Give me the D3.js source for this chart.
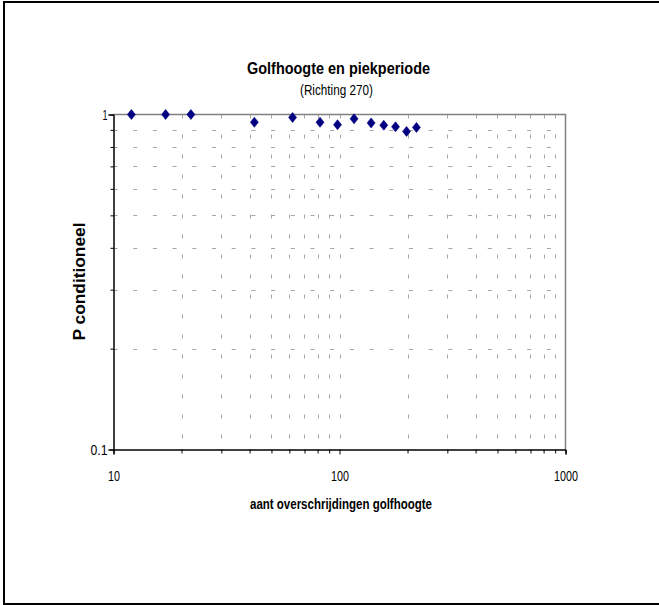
<!DOCTYPE html>
<html>
<head>
<meta charset="utf-8">
<script src="https://cdn.jsdelivr.net/npm/d3@7"></script>
<style>
  html, body { margin: 0; padding: 0; background: #fff; }
  svg { display: block; font-family: "Liberation Sans", Arial, sans-serif; }
</style>
</head>
<body>
<svg id="chart" width="659" height="605"></svg>
<script>
// ---- data ----
const xValues = [12, 17, 22, 42, 62, 82, 98, 116, 138, 157, 177, 198, 219];
const pValues = [1.0, 1.0, 1.0, 0.948, 0.98, 0.948, 0.932, 0.971, 0.944, 0.929, 0.919, 0.89, 0.915];
const xMajorTicks = [10, 100, 1000];
const xMinorTicks = [20, 30, 40, 50, 60, 70, 80, 90, 200, 300, 400, 500, 600, 700, 800, 900];
const yMajorTicks = [0.1, 1];
const yMinorTicks = [0.2, 0.3, 0.4, 0.5, 0.6, 0.7, 0.8, 0.9];
const titleText = "Golfhoogte en piekperiode";
const subtitleText = "(Richting 270)";
const xTitle = "aant overschrijdingen golfhoogte";
const yTitle = "P conditioneel";

// ---- layout ----
const pLeft = 113.5, pRight = 565.5, pTop = 114.5, pBottom = 449.5;
const svg = d3.select("#chart");

svg.append("rect").attr("x", 0).attr("y", 0).attr("width", 659).attr("height", 605).attr("fill", "#fff");
// outer frame (top, left, bottom visible)
svg.append("rect").attr("x", 4).attr("y", 2).attr("width", 720).attr("height", 602)
  .attr("fill", "none").attr("stroke", "#000").attr("stroke-width", 2);

const x = d3.scaleLog().domain([10, 1000]).range([pLeft, pRight]);
const y = d3.scaleLog().domain([0.1, 1]).range([pBottom, pTop]);

// gridlines
const grid = svg.append("g").attr("stroke", "#a6a6a6").attr("stroke-width", 1).attr("fill", "none");
xMinorTicks.concat([100]).forEach(v => {
  const px = Math.round(x(v)) + 0.5;
  grid.append("line").attr("x1", px).attr("x2", px).attr("y1", pTop).attr("y2", pBottom)
    .attr("stroke-dasharray", "4,16");
});
yMinorTicks.forEach(v => {
  const py = Math.round(y(v)) + 0.5;
  grid.append("line").attr("x1", pLeft).attr("x2", pRight).attr("y1", py).attr("y2", py)
    .attr("stroke-dasharray", "4,15.7");
});

// plot area top/right border (grey)
svg.append("path").attr("d", `M${pLeft},${pTop}H${pRight}V${pBottom}`)
  .attr("fill", "none").attr("stroke", "#808080").attr("stroke-width", 1.5);

// axes
const tickFont = 15;
const labelWidth = s => s === "0.1" ? 17 : s.length * 6;
const gx = svg.append("g").attr("transform", `translate(0,${pBottom})`);
gx.call(d3.axisBottom(x).tickValues(xMinorTicks).tickSize(4).tickFormat(""));
const gxM = svg.append("g").attr("transform", `translate(0,${pBottom})`);
gxM.call(d3.axisBottom(x).tickValues(xMajorTicks).tickSize(5).tickFormat(d3.format("d")));
[gx, gxM].forEach(g => {
  g.select(".domain").attr("stroke", "#000");
  g.selectAll(".tick line").attr("stroke", "#000");
});
gxM.selectAll(".tick text")
  .attr("y", 31).attr("dy", 0)
  .attr("fill", "#000")
  .attr("textLength", function() { return labelWidth(this.textContent); })
  .attr("lengthAdjust", "spacingAndGlyphs")
  .style("font-size", tickFont + "px")
  .style("font-family", "'Liberation Sans', Arial, sans-serif");

const gy = svg.append("g").attr("transform", `translate(${pLeft},0)`);
gy.call(d3.axisLeft(y).tickValues(yMinorTicks).tickSize(3).tickFormat(""));
const gyM = svg.append("g").attr("transform", `translate(${pLeft},0)`);
gyM.call(d3.axisLeft(y).tickValues(yMajorTicks).tickSize(5).tickFormat(d => d === 1 ? "1" : "0.1"));
[gy, gyM].forEach(g => {
  g.select(".domain").attr("stroke", "#000");
  g.selectAll(".tick line").attr("stroke", "#000");
});
gyM.selectAll(".tick text")
  .attr("x", -6).attr("dy", "0.35em")
  .attr("fill", "#000")
  .attr("textLength", function() { return this.textContent === "1" ? 5 : labelWidth(this.textContent); })
  .attr("lengthAdjust", "spacingAndGlyphs")
  .style("font-size", tickFont + "px")
  .style("font-family", "'Liberation Sans', Arial, sans-serif");

// markers
const diamond = "M0,-5L4,0L0,5L-4,0Z";
svg.append("g").selectAll("path").data(xValues).join("path")
  .attr("d", diamond)
  .attr("transform", (d, i) => `translate(${x(d)},${y(pValues[i])})`)
  .attr("fill", "#000080").attr("stroke", "#000080").attr("stroke-width", 0.6);

// titles
svg.append("text").attr("x", 338.5).attr("y", 74).attr("text-anchor", "middle")
  .attr("textLength", 183).attr("lengthAdjust", "spacingAndGlyphs")
  .style("font-size", "17px").style("font-weight", "bold").text(titleText);
svg.append("text").attr("x", 336.5).attr("y", 95).attr("text-anchor", "middle")
  .attr("textLength", 73).attr("lengthAdjust", "spacingAndGlyphs")
  .style("font-size", "14px").text(subtitleText);
svg.append("text").attr("x", 341).attr("y", 509).attr("text-anchor", "middle")
  .attr("textLength", 182).attr("lengthAdjust", "spacingAndGlyphs")
  .style("font-size", "15px").style("font-weight", "bold").text(xTitle);
svg.append("text").attr("transform", "translate(85,281.5) rotate(-90)").attr("text-anchor", "middle")
  .attr("textLength", 118).attr("lengthAdjust", "spacingAndGlyphs")
  .style("font-size", "16px").style("font-weight", "bold").text(yTitle);
</script>
</body>
</html>
